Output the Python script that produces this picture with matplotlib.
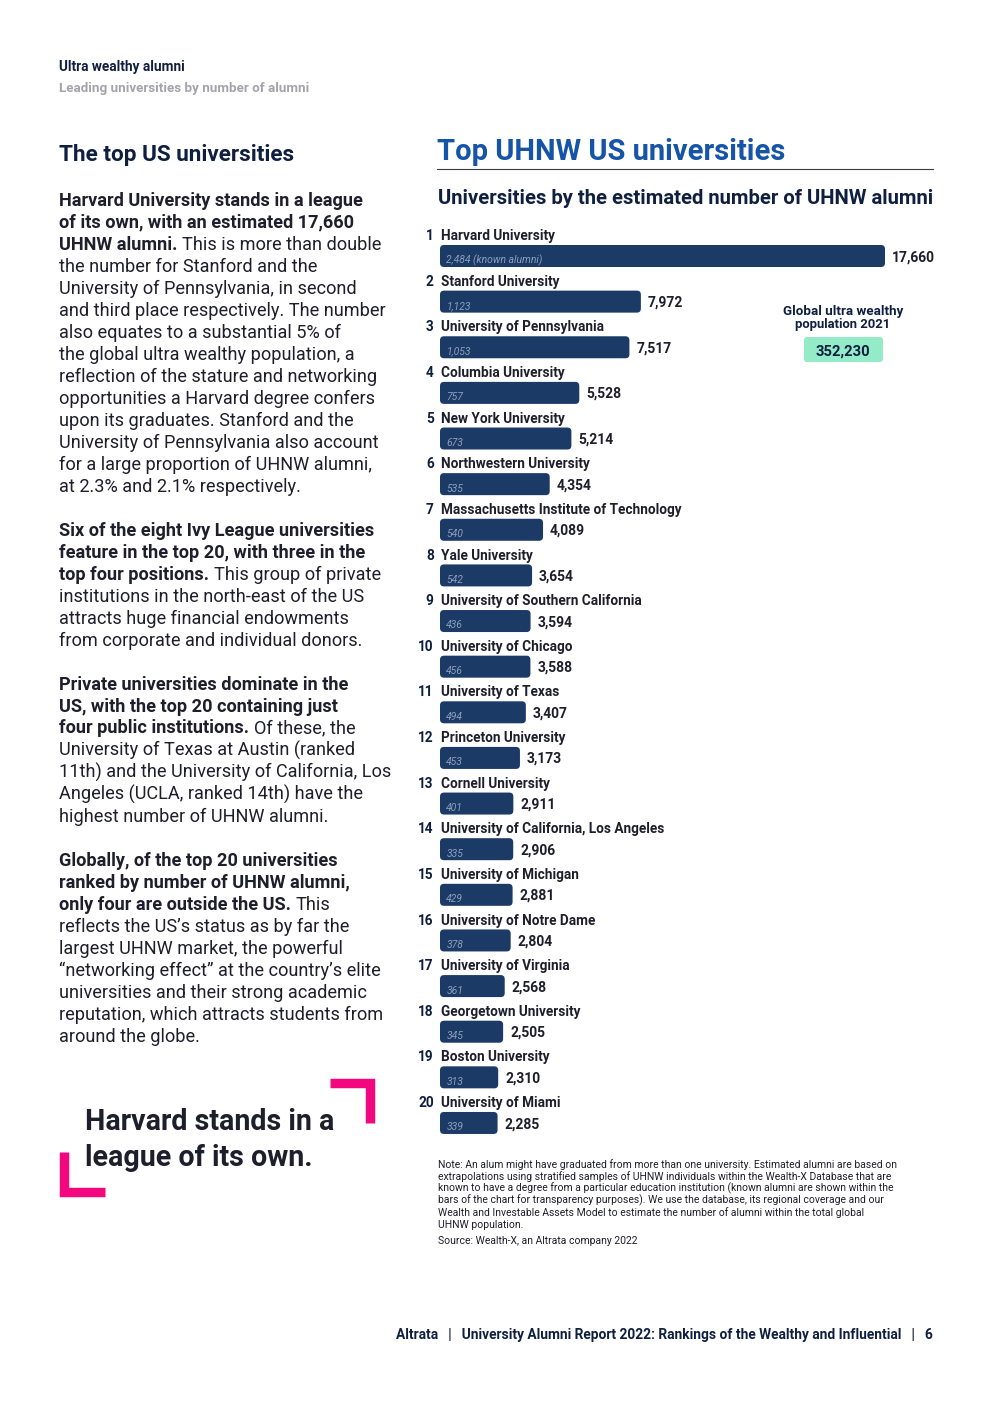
import matplotlib
matplotlib.use("Agg")
import matplotlib.pyplot as plt
from matplotlib.patches import FancyBboxPatch
from matplotlib.lines import Line2D

# data
ranks = list(range(1, 21))
universities = [
    "Harvard University", "Stanford University", "University of Pennsylvania",
    "Columbia University", "New York University", "Northwestern University",
    "Massachusetts Institute of Technology", "Yale University",
    "University of Southern California", "University of Chicago",
    "University of Texas", "Princeton University", "Cornell University",
    "University of California, Los Angeles", "University of Michigan",
    "University of Notre Dame", "University of Virginia",
    "Georgetown University", "Boston University", "University of Miami",
]
uhnw_alumni = [17660, 7972, 7517, 5528, 5214, 4354, 4089, 3654, 3594, 3588,
               3407, 3173, 2911, 2906, 2881, 2804, 2568, 2505, 2310, 2285]
known_alumni = [2484, 1123, 1053, 757, 673, 535, 540, 542, 436, 456,
                494, 453, 401, 335, 429, 378, 361, 345, 313, 339]
global_uhnw_2021 = 352230

W, H = 992, 1403
INK = "#1e1e2c"
NAVY = "#0f1f3f"
BLUE = "#1554a6"
BAR = "#1b3a66"
KNOWN = "#8d9fbd"
MINT = "#93ebc8"
GREY = "#a3a3ab"
PINK = "#f2077f"

plt.rcParams['font.family'] = ['Roboto', 'DejaVu Sans']
fig = plt.figure(figsize=(W / 100, H / 100), dpi=100)
renderer = fig.canvas.get_renderer()


def fx(x):
    return x / W


def fy(y):
    # pixel row -> figure fraction, nudged so the visual centre of the text sits on y
    return 1 - (y + 1.5) / H


def put(x, y, s, size, weight="normal", color=INK, ha="left", **kw):
    return fig.text(fx(x), fy(y), s, fontsize=size, fontweight=weight,
                    color=color, ha=ha, va="center", **kw)


def width_px(t):
    return t.get_window_extent(renderer).width


def fit(t, target):
    t.set_fontsize(t.get_fontsize() * target / width_px(t))
    return t


# header
fit(put(59, 65, "Ultra wealthy alumni", 9, "bold", NAVY), 125)
fit(put(59, 87, "Leading universities by number of alumni", 9, "bold", GREY), 248)
fit(put(59, 153, "The top US universities", 17, "bold", NAVY), 235)

# left column text
probe = put(0, 0, "and third place respectively. The number", 12)
body_size = 12 * 324 / width_px(probe)
probe.remove()
probe = put(0, 0, "a a", body_size)
space = width_px(probe)
probe.set_text("aa")
space -= width_px(probe)
probe.remove()

paragraphs = [
    (199, [
        [("Harvard University stands in a league", True)],
        [("of its own, with an estimated 17,660", True)],
        [("UHNW alumni.", True), ("This is more than double", False)],
        [("the number for Stanford and the", False)],
        [("University of Pennsylvania, in second", False)],
        [("and third place respectively. The number", False)],
        [("also equates to a substantial 5% of", False)],
        [("the global ultra wealthy population, a", False)],
        [("reflection of the stature and networking", False)],
        [("opportunities a Harvard degree confers", False)],
        [("upon its graduates. Stanford and the", False)],
        [("University of Pennsylvania also account", False)],
        [("for a large proportion of UHNW alumni,", False)],
        [("at 2.3% and 2.1% respectively.", False)],
    ]),
    (529, [
        [("Six of the eight Ivy League universities", True)],
        [("feature in the top 20, with three in the", True)],
        [("top four positions.", True), ("This group of private", False)],
        [("institutions in the north-east of the US", False)],
        [("attracts huge financial endowments", False)],
        [("from corporate and individual donors.", False)],
    ]),
    (683, [
        [("Private universities dominate in the", True)],
        [("US, with the top 20 containing just", True)],
        [("four public institutions.", True), ("Of these, the", False)],
        [("University of Texas at Austin (ranked", False)],
        [("11th) and the University of California, Los", False)],
        [("Angeles (UCLA, ranked 14th) have the", False)],
        [("highest number of UHNW alumni.", False)],
    ]),
    (859, [
        [("Globally, of the top 20 universities", True)],
        [("ranked by number of UHNW alumni,", True)],
        [("only four are outside the US.", True), ("This", False)],
        [("reflects the US\u2019s status as by far the", False)],
        [("largest UHNW market, the powerful", False)],
        [("\u201cnetworking effect\u201d at the country\u2019s elite", False)],
        [("universities and their strong academic", False)],
        [("reputation, which attracts students from", False)],
        [("around the globe.", False)],
    ]),
]
for top, lines in paragraphs:
    for k, runs in enumerate(lines):
        x = 59
        for s, bold in runs:
            t = put(x, top + 22 * k, s, body_size, "bold" if bold else "normal")
            x += width_px(t) + space

# quote with pink brackets
q1 = fit(put(85, 1120, "Harvard stands in a", 20, "bold", INK), 248)
put(85, 1156, "league of its own.", q1.get_fontsize(), "bold", INK)
for xs, ys in [([330, 370, 370], [1083, 1083, 1123]),
               ([64, 64, 105], [1152, 1192, 1192])]:
    fig.add_artist(Line2D([fx(v) for v in xs], [1 - v / H for v in ys],
                          color=PINK, lw=6.8, solid_capstyle="butt",
                          solid_joinstyle="miter", transform=fig.transFigure))

# right column titles
fit(put(437, 151, "Top UHNW US universities", 21, "bold", BLUE), 348)
fig.add_artist(Line2D([fx(437), fx(933)], [1 - 169 / H, 1 - 169 / H], color="#3a3a44",
                      lw=0.8, transform=fig.transFigure))
fit(put(438, 197, "Universities by the estimated number of UHNW alumni", 13,
        "bold", NAVY), 495)

# chart
ax_left, ax_right, ax_top, ax_bot = 440, 940, 220, 1140
row0, row_step = 256, 45.63
ax = fig.add_axes([fx(ax_left), 1 - ax_bot / H, (ax_right - ax_left) / W,
                   (ax_bot - ax_top) / H])
xmax = uhnw_alumni[0] * (ax_right - ax_left) / (885 - ax_left)
ax.set_xlim(0, xmax)
ax.set_ylim((ax_bot - row0) / row_step, (ax_top - row0) / row_step)
ax.axis("off")

xpp = xmax / (ax_right - ax_left)   # data x per pixel
ypp = 1 / row_step                  # data y per pixel
bars = ax.barh(range(len(uhnw_alumni)), uhnw_alumni, height=22 * ypp, color=BAR)
for b in bars:
    ax.add_patch(FancyBboxPatch((b.get_x(), b.get_y()), b.get_width(), b.get_height(),
                                boxstyle=f"round,pad=0,rounding_size={4 * xpp}",
                                mutation_aspect=ypp / xpp, fc=BAR, ec="none"))
    b.remove()

for i, (r, name, v, k) in enumerate(zip(ranks, universities, uhnw_alumni, known_alumni)):
    ax.annotate(str(r), (0, i), xytext=(-4.5, 14.3), textcoords="offset points",
                ha="right", va="center", fontsize=9.8, fontweight="bold", color=NAVY)
    ax.annotate(name, (0, i), xytext=(1, 14.3), textcoords="offset points",
                ha="left", va="center", fontsize=9.8, fontweight="bold", color=INK)
    lbl = f"{k:,} (known alumni)" if i == 0 else f"{k:,}"
    ax.annotate(lbl, (0, i), xytext=(4.5, -3.2), textcoords="offset points",
                ha="left", va="center", fontsize=7.5, style="italic", color=KNOWN)
    ax.annotate(f"{v:,}", (v, i), xytext=(5, -0.8), textcoords="offset points",
                ha="left", va="center", fontsize=10, fontweight="bold", color=INK)

# global population callout
fit(put(843, 310, "Global ultra wealthy", 9.5, "bold", NAVY, ha="center"), 121)
fit(put(843, 323, "population 2021", 9.5, "bold", NAVY, ha="center"), 96)
fig.add_artist(FancyBboxPatch((fx(804), 1 - 362 / H), (883 - 804) / W, 25 / H,
                              boxstyle="round,pad=0,rounding_size=0.003",
                              mutation_aspect=W / H, fc=MINT, ec="none",
                              transform=fig.transFigure))
fit(put(843, 350, f"{global_uhnw_2021:,}", 10, "bold", NAVY, ha="center"), 54)

# note and source
note = [
    "Note: An alum might have graduated from more than one university. Estimated alumni are based on",
    "extrapolations using stratified samples of UHNW individuals within the Wealth-X Database that are",
    "known to have a degree from a particular education institution (known alumni are shown within the",
    "bars of the chart for transparency purposes). We use the database, its regional coverage and our",
    "Wealth and Investable Assets Model to estimate the number of alumni within the total global",
    "UHNW population.",
]
n0 = fit(put(438, 1163, note[0], 7, color=INK), 457)
for k, line in enumerate(note[1:], start=1):
    put(438, 1163 + 12 * k, line, n0.get_fontsize(), color=INK)
put(438, 1240, "Source: Wealth-X, an Altrata company 2022", n0.get_fontsize(), color=INK)

# footer
fit(put(933, 1334, "Altrata   |   University Alumni Report 2022: Rankings of the Wealthy and Influential   |   6",
        9, "bold", NAVY, ha="right"), 534)

fig.savefig("out.png", dpi=100)
